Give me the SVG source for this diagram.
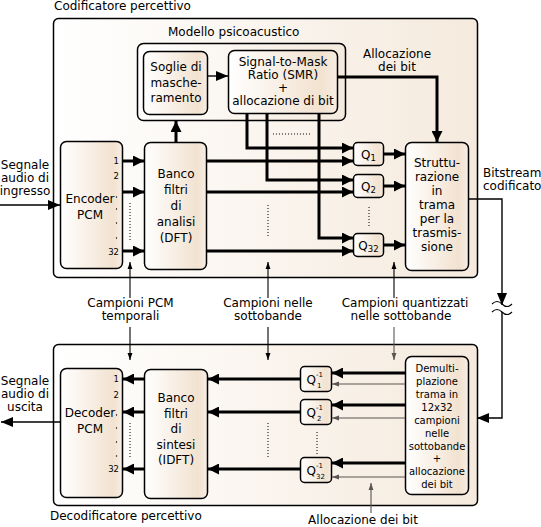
<svg xmlns="http://www.w3.org/2000/svg" width="541" height="527" viewBox="0 0 541 527">
<defs>
<linearGradient id="go" x1="0" y1="0" x2="1" y2="0"><stop offset="0" stop-color="#ffffff"/><stop offset="1" stop-color="#f5eadd"/></linearGradient>
<linearGradient id="gi" x1="0" y1="0" x2="1" y2="0"><stop offset="0" stop-color="#ffffff"/><stop offset="0.85" stop-color="#f2e2d0"/><stop offset="1" stop-color="#f7eee4"/></linearGradient>
<marker id="K" viewBox="0 0 10 10" refX="10" refY="5" markerWidth="11" markerHeight="11" markerUnits="userSpaceOnUse" orient="auto"><path d="M0,0 L10,5 L0,10 Z" fill="#000"/></marker>
<marker id="M" viewBox="0 0 10 10" refX="10" refY="5" markerWidth="12" markerHeight="12" markerUnits="userSpaceOnUse" orient="auto"><path d="M0,0.8 L10,5 L0,9.2 Z" fill="#000"/></marker>
<marker id="T" viewBox="0 0 10 10" refX="10" refY="5" markerWidth="7" markerHeight="7" markerUnits="userSpaceOnUse" orient="auto"><path d="M0,1.5 L10,5 L0,8.5 Z" fill="#000"/></marker>
<marker id="G" viewBox="0 0 10 10" refX="10" refY="5" markerWidth="7" markerHeight="7" markerUnits="userSpaceOnUse" orient="auto"><path d="M0,1.5 L10,5 L0,8.5 Z" fill="#5a5550"/></marker>
</defs>
<style>
.t{font-family:"DejaVu Sans","Liberation Sans",sans-serif;font-size:12px;fill:#000}
.c{text-anchor:middle}
.n{font-size:8.5px;text-anchor:end}
.s{font-size:10px}
.sm{font-size:7px}
.ob{fill:url(#go);stroke:#000;stroke-width:1.5}
.ib{fill:url(#gi);stroke:#000;stroke-width:1.5}
.k{stroke:#000;stroke-width:3;fill:none}
.h{stroke:#000;stroke-width:1.4;fill:none}
.th{stroke:#000;stroke-width:1.1;fill:none}
.gr{stroke:#5a5550;stroke-width:1.1;fill:none}
.d{stroke:#000;stroke-width:1;stroke-dasharray:1 2;fill:none}
.dot{fill:#000}
</style>

<g id="encoder">
<rect class="ob" x="53.5" y="18.5" width="424" height="259" rx="5"/>
<text class="t" x="54" y="10">Codificatore percettivo</text>
</g>
<g id="decoder">
<rect class="ob" x="53.5" y="344.5" width="424" height="161" rx="5"/>
<text class="t" x="50" y="520">Decodificatore percettivo</text>
</g>

<g id="modello">
<rect class="ob" x="137.5" y="43.5" width="208" height="77" rx="6"/>
<text class="t" x="168" y="36">Modello psicoacustico</text>
</g>
<g id="soglie">
<rect class="ib" x="143.5" y="51.5" width="64" height="63" rx="6"/>
<text class="t c" x="176" y="71">Soglie di</text>
<text class="t c" x="176" y="86.5">masche-</text>
<text class="t c" x="176" y="102">ramento</text>
</g>
<g id="smr">
<rect class="ib" x="228.5" y="50.5" width="109" height="63" rx="6"/>
<text class="t c" x="283" y="66">Signal-to-Mask</text>
<text class="t c" x="283" y="79">Ratio (SMR)</text>
<text class="t c" x="283" y="92">+</text>
<text class="t c" x="283" y="105">allocazione di bit</text>
</g>

<g id="encoderpcm">
<rect class="ib" x="60.5" y="141.5" width="62" height="127" rx="6"/>
<text class="t c" x="90" y="203">Encoder</text>
<text class="t c" x="90" y="219">PCM</text>
<text class="t n" x="119" y="164">1</text>
<text class="t n" x="119" y="179">2</text>
<circle class="dot" cx="116.5" cy="197" r="0.7"/>
<circle class="dot" cx="116.5" cy="209" r="0.7"/>
<circle class="dot" cx="116.5" cy="223" r="0.7"/>
<circle class="dot" cx="116.5" cy="238" r="0.7"/>
<text class="t n" x="119" y="255">32</text>
</g>
<g id="analisi">
<rect class="ib" x="144.5" y="142.5" width="62" height="127" rx="6"/>
<text class="t c" x="176" y="178">Banco</text>
<text class="t c" x="176" y="194">filtri</text>
<text class="t c" x="176" y="210">di</text>
<text class="t c" x="176" y="226">analisi</text>
<text class="t c" x="176" y="242">(DFT)</text>
</g>

<g id="q1"><rect class="ib" x="353.5" y="142.5" width="30" height="23" rx="4"/>
<text class="t c" x="368.5" y="158.5">Q<tspan font-size="8.5" dy="2.5">1</tspan></text></g>
<g id="q2"><rect class="ib" x="353.5" y="174.5" width="30" height="23" rx="4"/>
<text class="t c" x="368.5" y="190.5">Q<tspan font-size="8.5" dy="2.5">2</tspan></text></g>
<g id="q32"><rect class="ib" x="353.5" y="233.5" width="30" height="23" rx="4"/>
<text class="t c" x="368.5" y="249.5">Q<tspan font-size="8.5" dy="2.5">32</tspan></text></g>

<g id="strutturazione">
<rect class="ib" x="405.5" y="142.5" width="63" height="128" rx="6"/>
<text class="t c" x="437" y="167">Struttu-</text>
<text class="t c" x="437" y="181">razione</text>
<text class="t c" x="437" y="195">in</text>
<text class="t c" x="437" y="209">trama</text>
<text class="t c" x="437" y="223">per la</text>
<text class="t c" x="437" y="237">trasmis-</text>
<text class="t c" x="437" y="251">sione</text>
</g>

<g id="decoderpcm">
<rect class="ib" x="60.5" y="368.5" width="62" height="129" rx="6"/>
<text class="t c" x="90" y="417">Decoder</text>
<text class="t c" x="90" y="433">PCM</text>
<text class="t n" x="119" y="382">1</text>
<text class="t n" x="119" y="398">2</text>
<circle class="dot" cx="116.5" cy="415" r="0.7"/>
<circle class="dot" cx="116.5" cy="428" r="0.7"/>
<circle class="dot" cx="116.5" cy="442" r="0.7"/>
<circle class="dot" cx="116.5" cy="456" r="0.7"/>
<text class="t n" x="119" y="472">32</text>
</g>
<g id="sintesi">
<rect class="ib" x="144.5" y="369.5" width="63" height="129" rx="6"/>
<text class="t c" x="176" y="402">Banco</text>
<text class="t c" x="176" y="417.5">filtri</text>
<text class="t c" x="176" y="433">di</text>
<text class="t c" x="176" y="448.5">sintesi</text>
<text class="t c" x="176" y="464">(IDFT)</text>
</g>

<g id="qi1"><rect class="ib" x="300.5" y="366.5" width="31" height="25" rx="4"/>
<text class="t" x="306.5" y="384">Q</text><text class="t sm" x="316" y="376.5">-1</text><text class="t sm" x="317" y="388">1</text></g>
<g id="qi2"><rect class="ib" x="300.5" y="399.5" width="31" height="25" rx="4"/>
<text class="t" x="306.5" y="417">Q</text><text class="t sm" x="316" y="409.5">-1</text><text class="t sm" x="317" y="421">2</text></g>
<g id="qi32"><rect class="ib" x="300.5" y="457.5" width="31" height="25" rx="4"/>
<text class="t" x="306.5" y="475">Q</text><text class="t sm" x="316" y="467.5">-1</text><text class="t sm" x="316" y="479" font-size="6">32</text></g>

<g id="demux">
<rect class="ib" x="405.5" y="356.5" width="63" height="138" rx="6"/>
<text class="t c s" x="437" y="372">Demulti-</text>
<text class="t c s" x="437" y="385">plazione</text>
<text class="t c s" x="437" y="398">trama in</text>
<text class="t c s" x="437" y="410.5">12x32</text>
<text class="t c s" x="437" y="423.5">campioni</text>
<text class="t c s" x="437" y="436.5">nelle</text>
<text class="t c s" x="437" y="449.5">sottobande</text>
<text class="t c s" x="437" y="462">+</text>
<text class="t c s" x="437" y="475">allocazione</text>
<text class="t c s" x="437" y="488">dei bit</text>
</g>

<g id="labels">
<text class="t c" x="25" y="169">Segnale</text>
<text class="t c" x="25" y="182">audio di</text>
<text class="t c" x="25" y="195">ingresso</text>
<text class="t c" x="25" y="385">Segnale</text>
<text class="t c" x="25" y="398">audio di</text>
<text class="t c" x="25" y="411">uscita</text>
<text class="t c" x="397" y="58">Allocazione</text>
<text class="t c" x="397" y="71">dei bit</text>
<text class="t" x="483" y="177">Bitstream</text>
<text class="t" x="483" y="190">codificato</text>
<text class="t c" x="130.5" y="307">Campioni PCM</text>
<text class="t c" x="130.5" y="320">temporali</text>
<text class="t c" x="268" y="307">Campioni nelle</text>
<text class="t c" x="268" y="320">sottobande</text>
<text class="t c" x="405" y="307">Campioni quantizzati</text>
<text class="t c" x="401" y="320">nelle sottobande</text>
<text class="t c" x="363" y="524">Allocazione dei bit</text>
</g>

<g id="connectors">
<path class="h" d="M0,205 H60" marker-end="url(#M)"/>
<path class="k" d="M123,161 H144" marker-end="url(#K)"/>
<path class="k" d="M123,192 H144" marker-end="url(#K)"/>
<path class="k" d="M123,251 H144" marker-end="url(#K)"/>
<path class="k" d="M176,142 V121" marker-end="url(#K)"/>
<path class="h" d="M208,76 H228" marker-end="url(#M)"/>
<path class="k" d="M338,77 H437 V142" marker-end="url(#K)"/>
<path class="k" d="M247,114 V148 H353" marker-end="url(#K)"/>
<path class="k" d="M267,114 V180 H353" marker-end="url(#K)"/>
<path class="k" d="M319,114 V238 H353" marker-end="url(#K)"/>
<path class="k" d="M207,161 H353" marker-end="url(#K)"/>
<path class="k" d="M207,192 H353" marker-end="url(#K)"/>
<path class="k" d="M207,251 H353" marker-end="url(#K)"/>
<path class="k" d="M384,154 H405" marker-end="url(#K)"/>
<path class="k" d="M384,186 H405" marker-end="url(#K)"/>
<path class="k" d="M384,245 H405" marker-end="url(#K)"/>
<path class="h" d="M469,199 H502 V305" marker-end="url(#M)"/>
<path class="th" d="M492,304 q5,-5 10,0 t10,0 M492,312 q5,-5 10,0 t10,0"/>
<path class="h" d="M502,312 V418 H477" marker-end="url(#M)"/>
<path class="d" d="M130,203 V240 M268,205 V238 M369,207 V228 M273,134 H310"/>
<path class="th" d="M130,298 V262" marker-end="url(#T)"/>
<path class="th" d="M268,298 V262" marker-end="url(#T)"/>
<path class="th" d="M394,298 V262" marker-end="url(#T)"/>
<path class="th" d="M130,327 V360" marker-end="url(#T)"/>
<path class="th" d="M268,327 V360" marker-end="url(#T)"/>
<path class="gr" d="M394,327 V360" marker-end="url(#G)"/>
<path class="k" d="M300,379 H208" marker-end="url(#K)"/>
<path class="k" d="M300,412 H208" marker-end="url(#K)"/>
<path class="k" d="M300,469 H208" marker-end="url(#K)"/>
<path class="k" d="M144,379 H123" marker-end="url(#K)"/>
<path class="k" d="M144,412 H123" marker-end="url(#K)"/>
<path class="k" d="M144,469 H123" marker-end="url(#K)"/>
<path class="h" d="M60,422 H1" marker-end="url(#M)"/>
<path class="k" d="M405,373 H332" marker-end="url(#K)"/>
<path class="k" d="M405,405 H332" marker-end="url(#K)"/>
<path class="k" d="M405,463 H332" marker-end="url(#K)"/>
<path class="gr" d="M405,384 H332" marker-end="url(#G)"/>
<path class="gr" d="M405,418 H332" marker-end="url(#G)"/>
<path class="gr" d="M405,477 H332" marker-end="url(#G)"/>
<path class="d" d="M130,423 V458 M268,423 V458 M317,432 V455"/>
<path class="gr" d="M371,513 V483" marker-end="url(#G)"/>
</g>
</svg>
